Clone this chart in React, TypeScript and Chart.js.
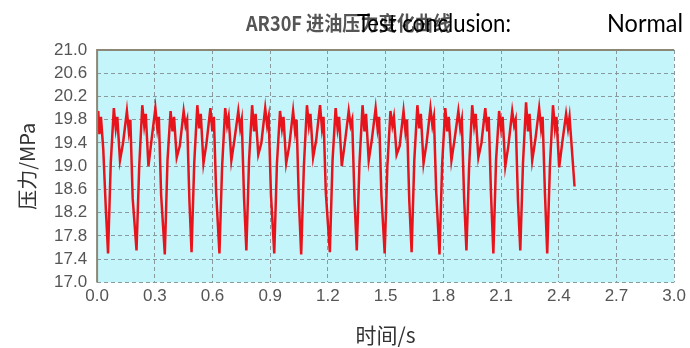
import React, { useEffect, useRef } from "react";
import { Chart, registerables } from "chart.js";

Chart.register(...registerables);

const titleText = "AR30F 进油压力变化曲线";
const conclusionLabel = "Test conclusion:";
const conclusionValue = "Normal";
const xAxisTitle = "时间/s";
const yAxisTitle = "压力/MPa";

const timeS = [
  0.000, 0.006, 0.012, 0.020, 0.032, 0.045,
  0.057, 0.071, 0.087, 0.097, 0.105, 0.119, 0.135, 0.155, 0.165, 0.173, 0.185,
  0.205, 0.219, 0.235, 0.245, 0.253, 0.267, 0.283, 0.303, 0.313, 0.321, 0.333,
  0.352, 0.366, 0.382, 0.392, 0.400, 0.414, 0.430, 0.450, 0.460, 0.468, 0.480,
  0.491, 0.505, 0.521, 0.531, 0.539, 0.553, 0.569, 0.589, 0.599, 0.607, 0.619,
  0.636, 0.650, 0.666, 0.676, 0.684, 0.698, 0.714, 0.734, 0.744, 0.752, 0.764,
  0.776, 0.790, 0.806, 0.816, 0.824, 0.838, 0.854, 0.874, 0.884, 0.892, 0.904,
  0.921, 0.935, 0.951, 0.961, 0.969, 0.983, 0.999, 1.019, 1.029, 1.037, 1.049,
  1.061, 1.075, 1.091, 1.101, 1.109, 1.123, 1.139, 1.159, 1.169, 1.177, 1.189,
  1.210, 1.224, 1.240, 1.250, 1.258, 1.272, 1.288, 1.308, 1.318, 1.326, 1.338,
  1.350, 1.364, 1.380, 1.390, 1.398, 1.412, 1.428, 1.448, 1.458, 1.466, 1.478,
  1.495, 1.509, 1.525, 1.535, 1.543, 1.557, 1.573, 1.593, 1.603, 1.611, 1.623,
  1.635, 1.649, 1.665, 1.675, 1.683, 1.697, 1.713, 1.733, 1.743, 1.751, 1.763,
  1.780, 1.794, 1.810, 1.820, 1.828, 1.842, 1.858, 1.878, 1.888, 1.896, 1.908,
  1.920, 1.934, 1.950, 1.960, 1.968, 1.982, 1.998, 2.018, 2.028, 2.036, 2.048,
  2.060, 2.074, 2.090, 2.100, 2.108, 2.122, 2.138, 2.158, 2.168, 2.176, 2.188,
  2.200, 2.214, 2.230, 2.240, 2.248, 2.262, 2.278, 2.298, 2.308, 2.316, 2.328,
  2.340, 2.354, 2.370, 2.380, 2.388, 2.402, 2.418, 2.438, 2.448, 2.456, 2.468, 2.482,
];

const pressureMPa = [
  19.80, 19.95, 19.55, 19.85, 19.30, 18.30,
  17.50, 19.05, 20.00, 19.65, 19.85, 19.10, 19.40, 19.95, 19.60, 19.80, 18.45,
  17.55, 19.00, 20.05, 19.70, 19.90, 19.00, 19.45, 20.00, 19.65, 19.85, 18.50,
  17.48, 19.10, 19.95, 19.60, 19.85, 19.15, 19.35, 19.95, 19.70, 19.80, 18.40,
  17.52, 19.05, 20.05, 19.65, 19.90, 19.05, 19.40, 20.00, 19.60, 19.85, 18.55,
  17.50, 19.00, 20.00, 19.70, 19.85, 19.10, 19.45, 19.95, 19.65, 19.80, 18.45,
  17.55, 19.10, 20.05, 19.60, 19.90, 19.20, 19.40, 20.00, 19.70, 19.85, 18.50,
  17.50, 19.05, 19.95, 19.65, 19.85, 19.05, 19.35, 19.95, 19.60, 19.80, 18.40,
  17.48, 19.00, 20.05, 19.70, 19.90, 19.15, 19.45, 20.05, 19.65, 19.85, 18.55,
  17.52, 19.10, 20.00, 19.65, 19.85, 19.00, 19.40, 19.95, 19.70, 19.80, 18.45,
  17.55, 19.05, 20.05, 19.60, 19.90, 19.10, 19.45, 20.00, 19.65, 19.85, 18.50,
  17.50, 19.00, 19.95, 19.70, 19.85, 19.20, 19.35, 19.95, 19.60, 19.80, 18.40,
  17.52, 19.10, 20.05, 19.65, 19.90, 19.05, 19.40, 20.00, 19.70, 19.85, 18.55,
  17.48, 19.05, 20.00, 19.60, 19.85, 19.10, 19.45, 19.95, 19.65, 19.80, 18.45,
  17.55, 19.00, 20.05, 19.70, 19.90, 19.15, 19.40, 20.00, 19.60, 19.85, 18.50,
  17.50, 19.10, 19.95, 19.65, 19.85, 19.00, 19.35, 19.95, 19.70, 19.80, 18.40,
  17.55, 19.05, 20.10, 19.60, 19.90, 19.10, 19.45, 20.00, 19.65, 19.85, 18.55,
  17.50, 19.00, 20.05, 19.65, 19.85, 18.98, 19.40, 19.90, 19.65, 19.85, 19.30, 18.65,
];

const xTicks = [0.0, 0.3, 0.6, 0.9, 1.2, 1.5, 1.8, 2.1, 2.4, 2.7, 3.0];
const yTicks = [17.0, 17.4, 17.8, 18.2, 18.6, 19.0, 19.4, 19.8, 20.2, 20.6, 21.0];

function fitText(ctx: CanvasRenderingContext2D, text: string, x: number, y: number, w: number) {
  const m = ctx.measureText(text).width;
  const s = w / m;
  ctx.save();
  ctx.translate(x, y);
  ctx.scale(s, 1);
  ctx.fillText(text, 0, 0);
  ctx.restore();
}

const bgPlugin = {
  id: "plotBg",
  beforeDraw(chart: any) {
    const { ctx, chartArea: a } = chart;
    ctx.save();
    ctx.fillStyle = "#c4f5fb";
    ctx.fillRect(a.left, a.top, a.right - a.left, a.bottom - a.top);
    ctx.restore();
  },
  afterDraw(chart: any) {
    const { ctx, chartArea: a } = chart;
    ctx.save();
    ctx.strokeStyle = "#8c8878";
    ctx.lineWidth = 2;
    ctx.beginPath();
    ctx.moveTo(a.left, a.bottom);
    ctx.lineTo(a.left, a.top);
    ctx.lineTo(a.right, a.top);
    ctx.stroke();
    ctx.textBaseline = "alphabetic";
    ctx.textAlign = "left";
    ctx.fillStyle = "#555555";
    ctx.font = "bold 20px 'Liberation Sans Narrow', 'Noto Sans CJK SC', sans-serif";
    fitText(ctx, titleText, 246, 31, 205);
    ctx.fillStyle = "#000000";
    ctx.font = "25px Lato, 'Open Sans', sans-serif";
    fitText(ctx, conclusionLabel, 357, 32, 154);
    fitText(ctx, conclusionValue, 607, 32, 76);
    ctx.restore();
  },
};

export default function App() {
  const ref = useRef<HTMLCanvasElement | null>(null);
  useEffect(() => {
    document.body.style.margin = "0";
    const data = timeS.map((t, i) => ({ x: t, y: pressureMPa[i] }));
    const tickFont = { size: 17, family: "'Liberation Sans', Arial, sans-serif" };
    const chart = new Chart(ref.current as HTMLCanvasElement, {
      type: "line",
      data: {
        datasets: [
          {
            data,
            borderColor: "#e8141c",
            borderWidth: 2.5,
            pointRadius: 0,
            tension: 0,
            fill: false,
          },
        ],
      },
      options: {
        animation: false,
        responsive: false,
        maintainAspectRatio: false,
        layout: { padding: { top: 50, right: -6, left: 7, bottom: 0 } },
        plugins: { legend: { display: false }, tooltip: { enabled: false }, title: { display: false } },
        scales: {
          x: {
            type: "linear",
            min: 0,
            max: 3,
            afterBuildTicks: (s: any) => {
              s.ticks = xTicks.map((v) => ({ value: v }));
            },
            ticks: {
              callback: (v: any) => Number(v).toFixed(1),
              color: "#555555",
              font: tickFont,
              padding: 4,
              maxRotation: 0,
              autoSkip: false,
            },
            grid: { color: "#8a9a9c", lineWidth: 1, drawTicks: false, tickLength: 0 },
            border: { display: false, dash: [4, 3] },
            title: {
              display: true,
              text: xAxisTitle,
              color: "#333333",
              font: { size: 21, family: "'Noto Sans CJK SC', sans-serif" },
              padding: { top: 12, bottom: 0 },
            },
          },
          y: {
            type: "linear",
            min: 17,
            max: 21,
            afterBuildTicks: (s: any) => {
              s.ticks = yTicks.map((v) => ({ value: v }));
            },
            ticks: {
              callback: (v: any) => Number(v).toFixed(1),
              color: "#555555",
              font: tickFont,
              padding: 10,
              autoSkip: false,
            },
            grid: { color: "#8a9a9c", lineWidth: 1, drawTicks: false, tickLength: 0 },
            border: { display: false, dash: [4, 3] },
            title: {
              display: true,
              text: yAxisTitle,
              color: "#333333",
              font: { size: 20, family: "'Noto Sans CJK SC', sans-serif" },
              padding: { top: 8, bottom: 5 },
            },
          },
        },
      },
      plugins: [bgPlugin],
    });
    return () => chart.destroy();
  }, []);
  return (
    <div style={{ width: 690, height: 348, background: "#ffffff" }}>
      <canvas ref={ref} width={690} height={348} style={{ display: "block" }} />
    </div>
  );
}
